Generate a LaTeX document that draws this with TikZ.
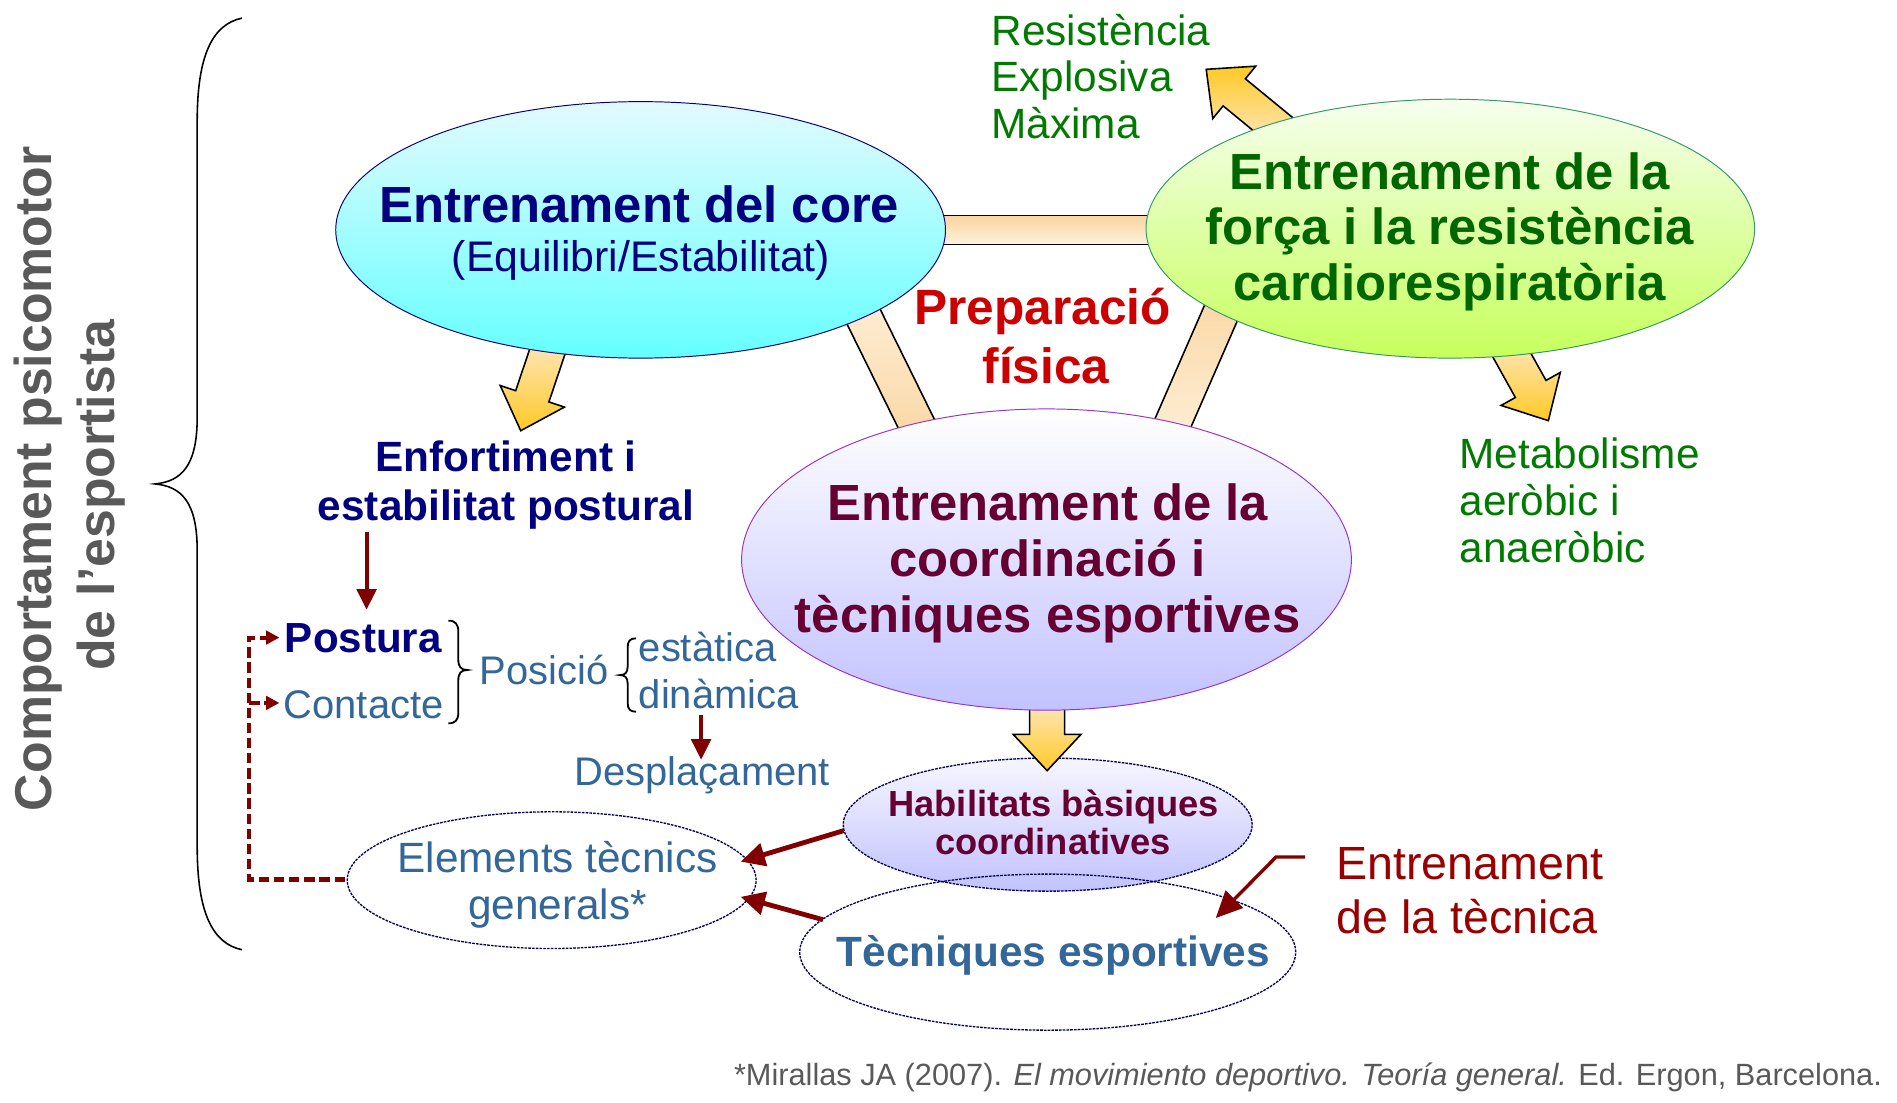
\documentclass[tikz,border=0pt]{standalone}
\usepackage{fontspec}
\setmainfont{Liberation Sans}
\usetikzlibrary{shapes.geometric,arrows.meta,calc}
\definecolor{navy}{HTML}{000080}
\definecolor{dgreen}{HTML}{006600}
\definecolor{lgreen}{HTML}{007A00}
\definecolor{maroon}{HTML}{660033}
\definecolor{steel}{HTML}{336699}
\definecolor{pred}{HTML}{CC0000}
\definecolor{dred}{HTML}{800000}
\definecolor{tred}{HTML}{990000}
\definecolor{gtxt}{HTML}{595959}
\definecolor{coreTop}{HTML}{E2FAFF}
\definecolor{coreBot}{HTML}{66FFFF}
\definecolor{forceTop}{HTML}{F6FFEE}
\definecolor{forceBot}{HTML}{C6FF5C}
\definecolor{forceLine}{HTML}{339966}
\definecolor{coordTop}{HTML}{FFFFFF}
\definecolor{coordBot}{HTML}{C2C2FF}
\definecolor{habTop}{HTML}{F6F6FF}
\definecolor{coordLine}{HTML}{9933CC}
\definecolor{dotLine}{HTML}{000055}
\definecolor{barDark}{HTML}{F9D49E}
\definecolor{barLight}{HTML}{FFF2DE}
\definecolor{arrLight}{HTML}{FDE8C2}
\definecolor{arrDark}{HTML}{FFC926}

% block arrow: start, tip, options
\newcommand\blockarr[3]{%
  \coordinate (bh) at ($(#2)!30pt!(#1)$);
  \path[draw=black, line width=1.3pt, line join=miter, #3]
    ($(#1)!14.5pt!90:(#2)$) -- ($(bh)!14.5pt!90:(#2)$) -- ($(bh)!28pt!90:(#2)$)
    -- (#2) -- ($(bh)!28pt!-90:(#2)$) -- ($(bh)!14.5pt!-90:(#2)$)
    -- ($(#1)!14.5pt!-90:(#2)$) -- cycle;}
% bar: start, end, half width, options
\newcommand\barpoly[4]{%
  \path[draw=black, line width=1.3pt, #4]
    ($(#1)!#3!90:(#2)$) -- ($(#2)!#3!-90:(#1)$) -- ($(#2)!#3!90:(#1)$)
    -- ($(#1)!#3!-90:(#2)$) -- cycle;}

\begin{document}
\begin{tikzpicture}[x=1pt,y=-1pt,
  ttl/.style={font=\fontsize{42}{46}\selectfont\bfseries, anchor=base},
  prep/.style={font=\fontsize{41}{46}\selectfont\bfseries, anchor=base, text=pred},
  bt/.style={font=\fontsize{35}{40}\selectfont\bfseries, anchor=base},
  rt/.style={font=\fontsize{35}{40}\selectfont, anchor=base west},
  bl/.style={font=\fontsize{33}{38}\selectfont, text=steel},
  habt/.style={font=\fontsize{30}{34}\selectfont\bfseries, anchor=base, text=maroon},
  vt/.style={font=\fontsize{42.8}{48}\selectfont\bfseries, text=gtxt, rotate=90, anchor=base},
  dotell/.style={ellipse, draw=dotLine, line width=1.1pt, dash pattern=on 2.2pt off 0.9pt, inner sep=0pt},
  fillell/.style={ellipse, line width=0.8pt, inner sep=0pt},
  redarr/.style={draw=dred, line width=3.3pt, -{Triangle[length=17pt,width=16pt]}},
  redarrb/.style={draw=dred, line width=4pt, -{Triangle[length=20pt,width=19pt]}},
  dasharr/.style={draw=dred, line width=3.4pt, dash pattern=on 8.5pt off 4pt, -{Triangle[length=11pt,width=11pt]}},
  brc/.style={draw=black, line width=1.5pt}]
\useasboundingbox (0,0) rectangle (1568,911);

% ---- connecting bars
\coordinate (hb1) at (770,190); \coordinate (hb2) at (965,190);
\barpoly{hb1}{hb2}{12pt}{top color=barDark, bottom color=barLight}
\coordinate (lb1) at (700,233.7); \coordinate (lb2) at (768.4,372.5);
\barpoly{lb1}{lb2}{15pt}{top color=barLight, bottom color=barDark}
\coordinate (rb1) at (1021.3,231); \coordinate (rb2) at (956.8,378.7);
\barpoly{rb1}{rb2}{15pt}{top color=barDark, bottom color=barLight}

% ---- block arrows (under the ellipses)
\coordinate (a1s) at (455,283); \coordinate (a1t) at (430.4,356);
\blockarr{a1s}{a1t}{top color=arrLight, bottom color=arrDark}
\coordinate (a2s) at (1060,109); \coordinate (a2t) at (997,57.3);
\blockarr{a2s}{a2t}{top color=arrDark, bottom color=arrLight}
\coordinate (a3s) at (1246,287); \coordinate (a3t) at (1279.8,347.7);
\blockarr{a3s}{a3t}{top color=arrLight, bottom color=arrDark}

% ---- Habilitats ellipse, then arrow into it
\node[dotell, top color=habTop, bottom color=coordBot, minimum width=338pt, minimum height=110pt] (hab) at (866,681.6) {};
\coordinate (a4s) at (865.5,578); \coordinate (a4t) at (865.5,637);
\blockarr{a4s}{a4t}{top color=arrLight, bottom color=arrDark}

% ---- main ellipses
\node[fillell, draw=navy, top color=coreTop, bottom color=coreBot, minimum width=504pt, minimum height=212pt] (core) at (529.5,190) {};
\node[fillell, draw=forceLine, top color=forceTop, bottom color=forceBot, minimum width=503pt, minimum height=214pt] (force) at (1198.8,189) {};
\node[fillell, draw=coordLine, top color=coordTop, bottom color=coordBot, minimum width=504pt, minimum height=249pt] (coord) at (865,462.5) {};

% ---- other ellipses
\node[dotell, minimum width=410pt, minimum height=129pt] (tec) at (866,787) {};
\node[dotell, minimum width=338pt, minimum height=113pt] (elem) at (456,727.5) {};

% ---- ellipse texts
\node[ttl, text=navy] (coreT) at (528.5,184.2) {Entrenament del core};
\node[font=\fontsize{35.4}{40}\selectfont, anchor=base, text=navy] (coreS) at (529.8,224.8) {(Equilibri/Estabilitat)};
\node[ttl, text=dgreen] (forceT1) at (1198.3,156.6) {Entrenament de la};
\node[ttl, text=dgreen] (forceT2) at (1198.3,202) {força i la resistència};
\node[ttl, text=dgreen] (forceT3) at (1198.3,248) {cardiorespiratòria};
\node[ttl, text=maroon] (coordT1) at (866,430) {Entrenament de la};
\node[ttl, text=maroon] (coordT2) at (866,476.5) {coordinació i};
\node[ttl, text=maroon] (coordT3) at (866,523) {tècniques esportives};
\node[prep] (prep1) at (861.7,268.6) {Preparació};
\node[prep] (prep2) at (864.5,316.9) {física};
\node[habt] (hab1) at (871,675) {Habilitats bàsiques};
\node[habt] (hab2) at (870.4,706.7) {coordinatives};
\node[bt, text=steel] (tecT) at (870.7,799) {Tècniques esportives};
\node[font=\fontsize{35}{40}\selectfont, anchor=base, text=steel] (elem1) at (460.8,721) {Elements tècnics};
\node[font=\fontsize{35}{40}\selectfont, anchor=base, text=steel] (elem2) at (460.8,760) {generals*};

% ---- side texts
\node[rt, text=lgreen] (res1) at (816,37.7) {Resistència};
\node[rt, text=lgreen] (res2) at (816,76) {Explosiva};
\node[rt, text=lgreen] (res3) at (816,114.5) {Màxima};
\node[rt, text=lgreen] (met1) at (1203,387) {Metabolisme};
\node[rt, text=lgreen] (met2) at (1203,426) {aeròbic i};
\node[rt, text=lgreen] (met3) at (1203,465) {anaeròbic};
\node[bt, text=navy] (enf1) at (418.3,389.5) {Enfortiment i};
\node[bt, text=navy] (enf2) at (418.3,430) {estabilitat postural};
\node[font=\fontsize{34.8}{40}\selectfont\bfseries, anchor=base west, text=navy] (post) at (232,539.5) {Postura};
\node[bl, anchor=base west] (cont) at (231,593.8) {Contacte};
\node[bl, anchor=base west] (posi) at (393,566) {Posició};
\node[bl, anchor=base west] (esta) at (524.5,547) {estàtica};
\node[bl, anchor=base west] (dina) at (524.5,585.5) {dinàmica};
\node[bl, anchor=base west] (desp) at (471.5,649) {Desplaçament};
\node[font=\fontsize{38.5}{44}\selectfont, anchor=base west, text=tred] (etec1) at (1101,726.6) {Entrenament};
\node[font=\fontsize{38.5}{44}\selectfont, anchor=base west, text=tred] (etec2) at (1101,771.9) {de la tècnica};

% ---- vertical title and footnote
\node[vt] (vt1) at (42.6,395.7) {Comportament psicomotor};
\node[vt] (vt2) at (95,409.5) {de l’esportista};
\node[font=\fontsize{25.4}{30}\selectfont, anchor=base east, text=gtxt] (foot) at (1559,897)
  {*Mirallas JA (2007). \textit{El movimiento deportivo. Teoría general.} Ed. Ergon, Barcelona.};

% ---- big brace
\draw[draw=black, line width=1.3pt] (200,15) .. controls (176,20) and (163,45) .. (163,100)
  -- (163,345) .. controls (163,385) and (150,398) .. (128,400)
  .. controls (150,402) and (163,415) .. (163,455)
  -- (163,700) .. controls (163,755) and (176,780) .. (200,785);

% ---- small braces
\draw[brc] (370.6,513) .. controls (376.5,513) and (378.8,516) .. (378.8,522)
  -- (378.8,545) .. controls (378.8,551) and (381,553.8) .. (386.3,553.8)
  .. controls (381,553.8) and (378.8,556.6) .. (378.8,562.6)
  -- (378.8,589) .. controls (378.8,595) and (376.5,597.9) .. (370.6,597.9);
\draw[brc] (525.7,527.6) .. controls (520.8,527.6) and (518.8,530) .. (518.8,535)
  -- (518.8,551) .. controls (518.8,556) and (516.5,558) .. (512.5,558)
  .. controls (516.5,558) and (518.8,560) .. (518.8,565)
  -- (518.8,581) .. controls (518.8,586) and (520.8,588.3) .. (525.7,588.3);

% ---- thin red arrows
\coordinate (enfB) at (303,440); \coordinate (postT) at (303,504);
\draw[redarr] (enfB) -- (postT);
\coordinate (dinB) at (579.5,591); \coordinate (despT) at (579.5,628);
\draw[redarr] (dinB) -- (despT);
\coordinate (habW) at (697.3,686.6); \coordinate (elemE1) at (612.2,712.2);
\draw[redarrb] (habW) -- (elemE1);
\coordinate (tecW) at (680.3,760.2); \coordinate (elemE2) at (612.2,741.3);
\draw[redarrb] (tecW) -- (elemE2);
\coordinate (etS) at (1078.7,708.4); \coordinate (etK) at (1054.7,708.4); \coordinate (etT) at (1004.9,758.8);
\draw[draw=dred, line width=2.8pt, line join=miter, -{Triangle[length=22pt,width=20pt]}] (etS) -- (etK) -- (etT);

% ---- dashed feedback
\coordinate (dashS) at (285,727); \coordinate (dashC) at (206,727);
\coordinate (dashP) at (206,527); \coordinate (postW) at (231,527);
\coordinate (dashM) at (206,581); \coordinate (contW) at (231,581);
\draw[dasharr] (dashS) -- (dashC) -- (dashP) -- (postW);
\draw[dasharr] (dashM) -- (contW);
\end{tikzpicture}
\end{document}
